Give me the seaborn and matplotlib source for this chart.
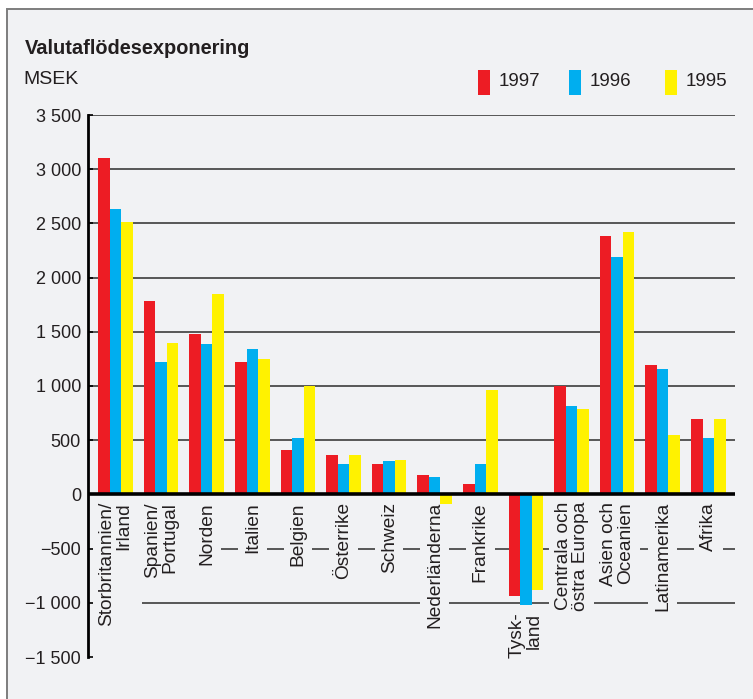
import matplotlib
matplotlib.use("Agg")
import matplotlib.pyplot as plt
from matplotlib.patches import Rectangle
from matplotlib.ticker import FuncFormatter
import pandas as pd
import seaborn as sns

# Currency flow exposure per region, MSEK
regions = [
    "Storbritannien/\nIrland", "Spanien/\nPortugal", "Norden", "Italien",
    "Belgien", "Österrike", "Schweiz", "Nederländerna", "Frankrike",
    "Tysk-\nland", "Centrala och\nöstra Europa", "Asien och\nOceanien",
    "Latinamerika", "Afrika",
]
years = ["1997", "1996", "1995"]
v1997 = [3100, 1780, 1480, 1220, 410, 365, 280, 175, 100, -940, 1000, 2380, 1190, 700]
v1996 = [2630, 1220, 1390, 1340, 520, 280, 305, 165, 280, -1020, 820, 2190, 1160, 520]
v1995 = [2510, 1400, 1850, 1250, 1000, 365, 315, -90, 960, -880, 790, 2420, 550, 700]
colors = ["#ed1c24", "#00aeef", "#fff200"]
yticks = [-1500, -1000, -500, 0, 500, 1000, 1500, 2000, 2500, 3000, 3500]

BG = "#f1f2f4"
INK = "#231f20"

sns.set_theme(style="white")
plt.rcParams["font.family"] = ["Liberation Sans", "DejaVu Sans"]

df = pd.DataFrame({
    "region": regions * 3,
    "year": [y for y in years for _ in regions],
    "value": v1997 + v1996 + v1995,
})

fig = plt.figure(figsize=(7.53, 6.99), dpi=100)
fig.patch.set_facecolor("white")
# framed light-grey panel behind everything
fig.add_artist(Rectangle((7 / 753, -0.05), 1.2, 1.05 - 9 / 699,
                         transform=fig.transFigure, facecolor=BG,
                         edgecolor="#7d7d7d", linewidth=1.4, zorder=-10))

ax = fig.add_axes([88 / 753, 42 / 699, 647 / 753, 542 / 699])
ax.set_facecolor("none")

sns.barplot(data=df, x="region", y="value", hue="year", order=regions,
            hue_order=years, palette=colors, saturation=1, width=0.76,
            gap=0, linewidth=0, legend=False, ax=ax, zorder=2)

x0, x1 = -0.603, 13.585
ax.set_xlim(x0, x1)
ax.set_ylim(-1500, 3500)

# horizontal rules
pos = [t for t in yticks if t > 0]
ax.hlines(pos, x0, x1, color="#3c3c3c", linewidth=1.2, zorder=0.5)
ax.hlines(-500, regions.index("Norden"), x1, color="#3c3c3c", linewidth=1.2, zorder=0.5)
ax.hlines(-1000, 0.58, x1, color="#3c3c3c", linewidth=1.2, zorder=0.5)
ax.axhline(0, color="black", linewidth=2.6, zorder=5)

for s in ["top", "right", "bottom"]:
    ax.spines[s].set_visible(False)
ax.spines["left"].set_color("black")
ax.spines["left"].set_linewidth(2.0)
ax.spines["left"].set_zorder(6)

ax.set_yticks(yticks)
ax.yaxis.set_major_formatter(FuncFormatter(
    lambda v, _: ("\u2212" if v < 0 else "") + f"{abs(int(v)):,}".replace(",", " ")))
ax.tick_params(axis="y", direction="in", length=3.5, width=1.2, color="black",
               pad=5, labelsize=13, labelcolor=INK, left=True)
ax.set_xticks([])
ax.set_xlabel("")
ax.set_ylabel("")

# rotated category labels under the zero line (or under negative bars)
for i, lab in enumerate(regions):
    low = min(v1997[i], v1996[i], v1995[i])
    base = low if low < -500 else 0
    ax.annotate(lab, xy=(i, base), xytext=(0, -5.5), textcoords="offset points",
                rotation=90, ha="center", va="top", multialignment="right",
                fontsize=13.8, color=INK, linespacing=1.0, zorder=1,
                bbox=dict(boxstyle="square,pad=0.3", facecolor=BG, edgecolor="none"))

# title and unit
fig.text(25 / 753, 1 - 48 / 699, "Valutaflödesexponering",
         fontweight="bold", fontsize=14.4, color=INK, va="center")
fig.text(23 / 753, 1 - 80 / 699, "MSEK", fontsize=14, color=INK, va="center")

# legend
lx = [478, 569, 665]
for x, yr, c in zip(lx, years, colors):
    fig.add_artist(Rectangle((x / 753, 1 - 95 / 699), 12 / 753, 25 / 699,
                             transform=fig.transFigure, facecolor=c,
                             edgecolor="none"))
    fig.text((x + 21) / 753, 1 - 81 / 699, yr, fontsize=13.5,
             color=INK, va="center")

fig.savefig("out.png", dpi=100, facecolor=fig.get_facecolor())
